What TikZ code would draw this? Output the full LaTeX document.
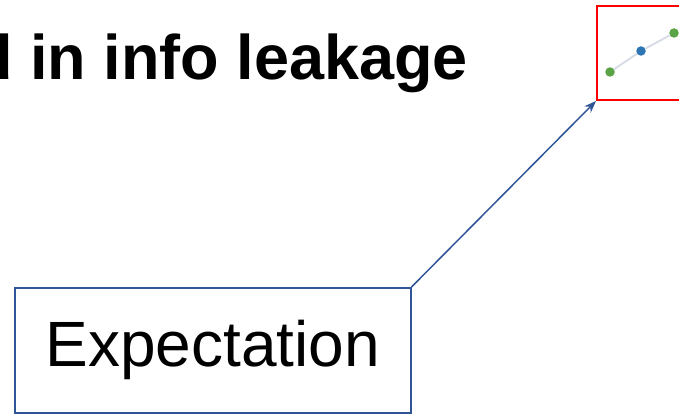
\documentclass[tikz,border=0pt]{standalone}
\usepackage{fontspec}
\setmainfont{Liberation Sans}
\usetikzlibrary{arrows.meta}
\definecolor{boxblue}{HTML}{2F5597}
\definecolor{framered}{HTML}{FF0000}
\definecolor{dotgreen}{HTML}{5BA445}
\definecolor{dotblue}{HTML}{2E75B6}
\definecolor{trendgray}{HTML}{D9DEE6}
\tikzset{
  callout/.style={draw=boxblue, line width=1.5pt, minimum width=396pt, minimum height=125pt,
    inner sep=0pt, font=\fontsize{64}{76}\selectfont},
  plotframe/.style={draw=framered, line width=2pt, minimum width=120pt, minimum height=94pt, inner sep=0pt},
  pointer/.style={draw=boxblue, line width=1.5pt, -{Stealth[length=12pt,width=9pt]}},
  dot/.style={circle, inner sep=0pt, minimum size=9.5pt},
  title/.style={font=\bfseries\fontsize{63}{75}\selectfont, inner sep=0pt}
}
\begin{document}
\begin{tikzpicture}[x=1pt,y=1pt]
  \useasboundingbox (0,0) rectangle (679,-414);
  \clip (0,0) rectangle (679,-414);
  % heading, running off the left edge
  \node[title, anchor=base east] (heading) at (468,-80) {d in info leakage};
  % small chart in a red frame
  \node[plotframe, anchor=north west] (plot) at (596,-5) {};
  \node[dot, fill=dotgreen] (p1) at (610,-72) {};
  \node[dot, fill=dotblue] (p2) at (641,-51) {};
  \node[dot, fill=dotgreen] (p3) at (674,-33) {};
  \draw[trendgray, line width=2pt] (p1) -- (p2) -- (p3);
  % callout box
  \node[callout, anchor=north west] (exp) at (14,-287) {Expectation};
  \draw[pointer] (exp.north east) -- (plot.south west);
\end{tikzpicture}
\end{document}
